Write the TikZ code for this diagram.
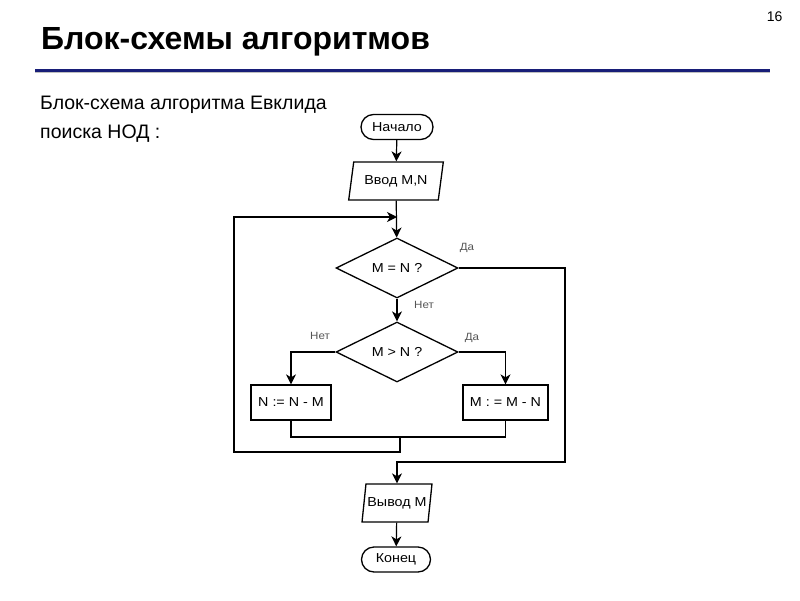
\documentclass[tikz,border=0pt]{standalone}
\usepackage{fontspec}
\setmainfont{Liberation Sans}
\newfontfamily\flowfont[FakeStretch=1.1]{Liberation Sans}
\usetikzlibrary{shapes.geometric,shapes.misc,arrows.meta}
\definecolor{navy}{RGB}{24,30,120}
\definecolor{lblgray}{RGB}{85,85,85}
\tikzset{
  block/.style={draw,line width=1.3pt,font=\flowfont\fontsize{13}{15}\selectfont,inner sep=0pt},
  term/.style={block,rounded rectangle,minimum height=25pt},
  io/.style={block,trapezium,trapezium left angle=72,trapezium right angle=108,trapezium stretches=true,minimum height=38pt},
  cond/.style={block,diamond,minimum width=122pt,minimum height=60pt},
  proc/.style={block,rectangle,minimum height=35pt},
  conn/.style={line width=1.2pt},
  arr/.style={conn,-{Stealth[length=10pt,width=10pt,inset=3pt]}},
  lbl/.style={font=\flowfont\fontsize{10.5}{12}\selectfont,text=lblgray,inner sep=0pt}
}
\begin{document}
\begin{tikzpicture}[x=1pt,y=-1pt]
\useasboundingbox (0,0) rectangle (800,600);
\fill[white] (0,0) rectangle (800,600);
% header
\node[anchor=base east,font=\fontsize{14}{16}\selectfont] (pg) at (786,21) {16};
\node[anchor=base west,font=\fontsize{32}{36}\selectfont\bfseries,inner sep=0pt] (title) at (41,49) {Блок-схемы алгоритмов};
\draw[line width=1.5pt,black!25] (35,72.5) -- (770,72.5);
\draw[line width=3pt,navy] (35,70) -- (770,70);
\node[anchor=base west,font=\fontsize{19.5}{22}\selectfont,inner sep=0pt] (sub1) at (40,109) {Блок-схема алгоритма Евклида};
\node[anchor=base west,font=\fontsize{19.5}{22}\selectfont,inner sep=0pt] (sub2) at (40,138) {поиска НОД :};
% flowchart
\node[term,minimum width=72pt] (start) at (397,127) {Начало};
\node[io,minimum width=95pt] (in) at (396,181) {Ввод M,N};
\node[cond] (d1) at (397,268) {M = N ?};
\node[cond] (d2) at (397,352) {M > N ?};
\node[proc,minimum width=80pt] (nb) at (291,402.5) {N := N - M};
\node[proc,minimum width=85pt] (mb) at (505.5,402.5) {M : = M - N};
\node[io,minimum width=70pt] (out) at (397,503) {Вывод M};
\node[term,minimum width=69pt] (end) at (396,559.5) {Конец};
% labels
\node[lbl] (l1) at (467,248) {Да};
\node[lbl] (l2) at (424,305) {Нет};
\node[lbl] (l3) at (320,336) {Нет};
\node[lbl] (l4) at (472,338) {Да};
% coordinates
\coordinate (j) at (397,217);
\coordinate (jl) at (400,437);
\coordinate (lb) at (234,452);
\coordinate (lt) at (234,217);
\coordinate (r1) at (565,462);
% connectors
\draw[arr] (start) -- (in);
\draw[arr] (in) -- (d1);
\draw[arr] (d1) -- (d2);
\draw[arr] (d2.west) -| (nb.north);
\draw[arr] (d2.east) -| (mb.north);
\draw[conn] (nb.south) |- (jl) -| (mb.south);
\draw[arr] (jl) |- (lb) -- (lt) -- (j);
\draw[arr] (d1.east) -| (r1) -| (out.north);
\draw[arr] (out) -- (end);
\end{tikzpicture}
\end{document}
